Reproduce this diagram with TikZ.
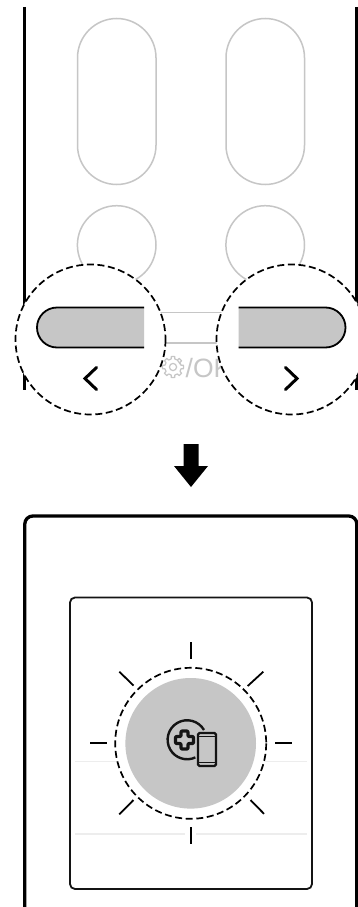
\documentclass[tikz,border=0pt]{standalone}
\usepackage{fontspec}
\setmainfont{Liberation Sans}
\definecolor{btn}{HTML}{C6C6C6}
\definecolor{faint}{HTML}{EDEDED}
\definecolor{ink}{HTML}{141414}
\tikzset{
  ghost/.style={draw=btn,line width=1.5pt},
  frame/.style={draw=black,line width=3.3pt},
  lens/.style={draw=black,fill=white,line width=1.7pt,dash pattern=on 7pt off 3.6pt},
  barfill/.style={fill=btn,draw=none},
  barline/.style={draw=black,line width=1.8pt},
  chev/.style={draw=black,line width=3pt,line cap=round,line join=miter},
  ray/.style={draw=black,line width=1.8pt},
  hair/.style={draw=faint,line width=1.2pt},
}
\begin{document}
\begin{tikzpicture}[x=1pt,y=-1pt]
\useasboundingbox (0,0) rectangle (358,907);
\clip (0,0) rectangle (358,907);
\fill[white] (0,0) rectangle (358,907);
% ghost buttons
\draw[ghost,rounded corners=39.3pt] (77.5,18.5) rectangle (156,184.5);
\draw[ghost,rounded corners=39.3pt] (226,18.5) rectangle (304.5,184.5);
\draw[ghost] (116.7,245) circle[radius=39.3];
\draw[ghost] (265.2,245) circle[radius=39.3];
\draw[ghost] (150,312.3) -- (230,312.3);
\draw[ghost] (150,343) -- (230,343);
% gear
\begin{scope}[shift={(173,367)}]
\draw[draw=btn,line width=1.2pt,line join=round]
  \foreach \a in {0,45,...,315}{
    (\a-13:8.2) -- (\a-9:10.6) -- (\a+9:10.6) -- (\a+13:8.2) arc[start angle=\a+13,end angle=\a+32,radius=8.2]
  } -- cycle;
\draw[draw=btn,line width=1.2pt] (0,0) circle[radius=3.6];
\end{scope}
\node[anchor=base west,inner sep=0pt,text=btn,font=\fontsize{26.5}{26.5}\selectfont] (oklabel) at (185.5,377) {/OK};
% remote side lines
\draw[frame] (24.8,7) -- (24.8,390);
\draw[frame] (356.8,7) -- (356.8,390);
% lenses
\draw[lens] (90.5,339.5) circle[radius=75];
\draw[lens] (291.5,339.5) circle[radius=75];
% highlighted bars
\path[barfill] (144,307.5) -- (57,307.5) arc[start angle=270,end angle=90,radius=20] -- (144,347.5) -- cycle;
\draw[barline] (144,307.5) -- (57,307.5) arc[start angle=270,end angle=90,radius=20] -- (144,347.5);
\path[barfill] (238.5,307.5) -- (325.5,307.5) arc[start angle=-90,end angle=90,radius=20] -- (238.5,347.5) -- cycle;
\draw[barline] (238.5,307.5) -- (325.5,307.5) arc[start angle=-90,end angle=90,radius=20] -- (238.5,347.5);
\draw[chev] (96.5,367.5) -- (85,378.5) -- (96.5,389.5);
\draw[chev] (285.5,367.5) -- (297,378.5) -- (285.5,389.5);
% arrow
\fill[black] (183.5,444) -- (198.5,444) -- (198.5,466) -- (208,466) -- (191,487) -- (174,466) -- (183.5,466) -- cycle;
% lower frame
\draw[frame,rounded corners=8pt] (24.8,910) -- (24.8,516) -- (356.8,516) -- (356.8,910);
\draw[draw=ink,line width=1.8pt,rounded corners=5pt] (70,597.5) rectangle (312,889);
\draw[hair] (75,761.5) -- (307,761.5);
\draw[hair] (75,834) -- (307,834);
\fill[white] (185,828) rectangle (196,845);
% glow
\draw[lens] (190.7,743.3) circle[radius=75.5];
\fill[btn] (190.7,743.3) circle[radius=65.3];
\draw[ray] (90,743.3) -- (107,743.3);
\draw[ray] (275,743.3) -- (292,743.3);
\draw[ray] (190.7,642) -- (190.7,659);
\draw[ray] (190.7,827) -- (190.7,844);
\draw[ray] (119.3,671.7) -- (133.5,685.5);
\draw[ray] (263.3,671.7) -- (247.7,686);
\draw[ray] (119.3,814.3) -- (133.5,800);
\draw[ray] (264,813.8) -- (250.5,800);
% icon
\draw[draw=ink,line width=2.4pt] (204,730) arc[start angle=-30,end angle=-295,radius=19.5];
\draw[draw=ink,line width=3.2pt,line join=round,rounded corners=1pt,fill=btn]
  (181,731) -- (188,731) -- (188,736.5) -- (193.5,736.5) -- (193.5,743.5) -- (188,743.5) -- (188,749) -- (181,749) -- (181,743.5) -- (175.5,743.5) -- (175.5,736.5) -- (181,736.5) -- cycle;
\draw[draw=ink,fill=btn,line width=2.4pt,rounded corners=1.5pt] (198,733) rectangle (216,766);
\draw[draw=ink,line width=1.3pt] (198,736.8) -- (216,736.8);
\draw[draw=ink,line width=1.3pt] (198,762.3) -- (216,762.3);
\end{tikzpicture}
\end{document}
